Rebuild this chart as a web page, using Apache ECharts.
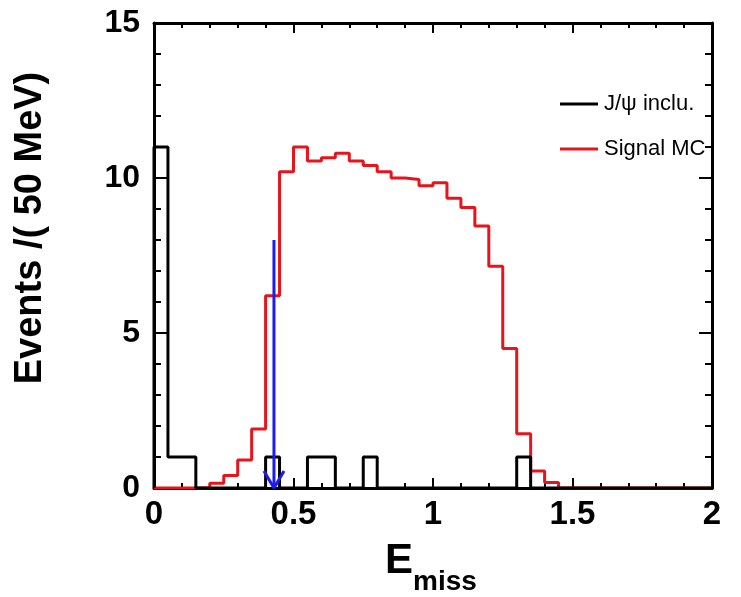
<!DOCTYPE html>
<html>
<head>
<meta charset="utf-8">
<script src="https://cdn.jsdelivr.net/npm/echarts@6/dist/echarts.min.js"></script>
<style>html,body{margin:0;padding:0;background:#fff;}#c{width:741px;height:597px;}</style>
</head>
<body>
<div id="c"></div>
<script>
// Histogram binning: 40 bins of 0.05 from 0 to 2
var binWidth = 0.05;
var nBins = 40;
// J/psi inclusive MC (black)
var jpsiCounts = [11,1,1,0,0,0,0,0,1,0, 0,1,1,0,0,1,0,0,0,0, 0,0,0,0,0,0,1,0,0,0, 0,0,0,0,0,0,0,0,0,0];
// Signal MC (red)
var signalCounts = [0,0,0,0,0.15,0.4,0.9,1.9,6.2,10.2, 11.0,10.55,10.65,10.8,10.55,10.4,10.2,10.0,9.95,9.75, 9.85,9.35,9.05,8.45,7.15,4.5,1.75,0.55,0.18,0, 0,0,0,0,0,0,0,0,0,0];
// Cut arrow
var cutX = 0.43;
var cutTop = 8;
var xTicks = [0, 0.5, 1, 1.5, 2];
var yTicks = [0, 5, 10, 15];
var seriesNames = ['J/\u03c8 inclu.', 'Signal MC'];

function histPoints(counts, startFromZero) {
  var pts = [];
  if (startFromZero) pts.push([0, 0]);
  for (var i = 0; i < counts.length; i++) pts.push([+(i * binWidth).toFixed(4), counts[i]]);
  pts.push([+(counts.length * binWidth).toFixed(4), counts[counts.length - 1]]);
  return pts;
}

var FONT = "'Liberation Sans', Arial, Helvetica, sans-serif";
var chart = echarts.init(document.getElementById('c'), null, {renderer: 'canvas'});

var headW = 0.036, headH = 0.55;

var commonX = {
  type: 'value', min: xTicks[0], max: xTicks[xTicks.length - 1], interval: 0.5,
  axisLine: {show: true, onZero: false, lineStyle: {color: '#000', width: 3}},
  splitLine: {show: false},
  axisTick: {show: true, inside: true, length: 10, lineStyle: {color: '#000', width: 2}},
  minorTick: {show: true, splitNumber: 5, length: 5, lineStyle: {color: '#000', width: 2}}
};
var commonY = {
  type: 'value', min: yTicks[0], max: yTicks[yTicks.length - 1], interval: 5,
  axisLine: {show: true, onZero: false, lineStyle: {color: '#000', width: 3}},
  splitLine: {show: false},
  axisTick: {show: true, inside: true, length: 13, lineStyle: {color: '#000', width: 2}},
  minorTick: {show: true, splitNumber: 5, length: 7, lineStyle: {color: '#000', width: 2}}
};

var option = {
  animation: false,
  backgroundColor: '#fff',
  grid: {left: 154, right: 29, top: 23, bottom: 109, containLabel: false},
  xAxis: [
    Object.assign({}, commonX, {position: 'bottom',
      axisLabel: {show: true, margin: 10, color: '#000', fontSize: 33, fontWeight: 'bold', fontFamily: FONT,
        formatter: function (v) { return String(v); }}}),
    Object.assign({}, commonX, {position: 'top', axisLabel: {show: false}})
  ],
  yAxis: [
    Object.assign({}, commonY, {position: 'left',
      axisLabel: {show: true, margin: 14, color: '#000', fontSize: 32, fontWeight: 'bold', fontFamily: FONT}}),
    Object.assign({}, commonY, {position: 'right', axisLabel: {show: false}})
  ],
  legend: {
    orient: 'vertical', left: 555, top: 88, itemWidth: 38, itemHeight: 3, itemGap: 23,
    icon: 'rect',
    data: [seriesNames[0], seriesNames[1]],
    textStyle: {color: '#000', fontSize: 22, fontFamily: FONT, lineHeight: 22, padding: [0, 0, 0, 1]}
  },
  graphic: [
    {type: 'text', x: 31, y: 228, rotation: Math.PI / 2,
      style: {text: 'Events /( 50 MeV)', fill: '#000', font: 'bold 38px ' + FONT, textAlign: 'center', textVerticalAlign: 'middle'}},
    {type: 'text', x: 385, y: 561,
      style: {text: 'E', fill: '#000', font: 'bold 42px ' + FONT, textAlign: 'left', textVerticalAlign: 'middle'}},
    {type: 'text', x: 413, y: 582,
      style: {text: 'miss', fill: '#000', font: 'bold 28px ' + FONT, textAlign: 'left', textVerticalAlign: 'middle'}}
  ],
  series: [
    {name: seriesNames[1], type: 'line', step: 'end', symbol: 'none', z: 3,
      itemStyle: {color: '#e8141c'}, lineStyle: {color: '#e8141c', width: 3},
      data: histPoints(signalCounts, false)},
    {name: seriesNames[0], type: 'line', step: 'end', symbol: 'none', z: 4,
      itemStyle: {color: '#000'}, lineStyle: {color: '#000', width: 3},
      data: histPoints(jpsiCounts, true)},
    {name: 'cut', type: 'line', symbol: 'none', z: 5, lineStyle: {color: '#1c1cf0', width: 3},
      data: [[cutX, cutTop], [cutX, 0]]},
    {name: 'cutHead', type: 'line', symbol: 'none', z: 5, lineStyle: {color: '#1c1cf0', width: 3},
      data: [[cutX - headW, headH], [cutX, 0], [cutX + headW, headH]]}
  ]
};
chart.setOption(option);
</script>
</body>
</html>
